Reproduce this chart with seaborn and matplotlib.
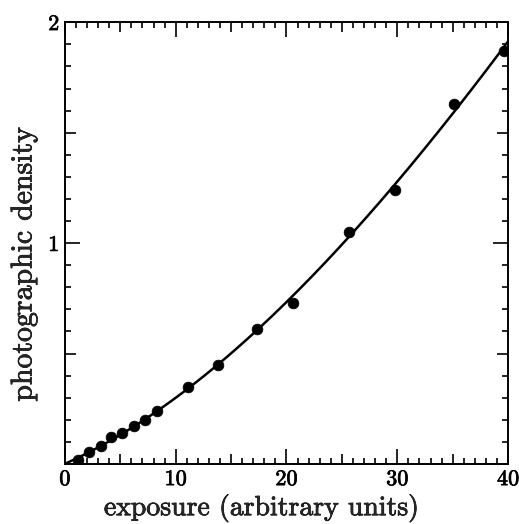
import numpy as np
import pandas as pd
import matplotlib
matplotlib.use("Agg")
import matplotlib.pyplot as plt
import matplotlib.patheffects as pe
import seaborn as sns
from matplotlib.ticker import MultipleLocator, FuncFormatter

exposure = [1.2, 2.2, 3.3, 4.2, 5.2, 6.2, 7.2, 8.3, 11.1, 13.8, 17.3, 20.6, 25.6, 29.8, 35.1, 39.6]
density = [0.02, 0.054, 0.08, 0.12, 0.14, 0.17, 0.20, 0.24, 0.35, 0.45, 0.61, 0.73, 1.05, 1.24, 1.63, 1.87]
x_tick_labels = ["0", "10", "20", "30", "40"]
y_tick_labels = ["1", "2"]

sns.set_style("ticks")
plt.rcParams["font.family"] = ["cmr10", "DejaVu Serif"]
plt.rcParams["axes.formatter.use_mathtext"] = True

fig = plt.figure(figsize=(5.19, 5.24), dpi=100)
ax = fig.add_axes([0.125, 0.1145, 0.854, 0.843])

df = pd.DataFrame({"exposure": exposure, "density": density})
# smooth fitted curve through origin and the data
fx = np.array([0.0] + exposure)
fy = np.array([0.0] + density)
coef = np.polyfit(fx, fy, 3)
cx = np.linspace(0, 40, 200)
curve = pd.DataFrame({"exposure": cx, "density": np.polyval(coef, cx)})

sns.lineplot(data=curve, x="exposure", y="density", ax=ax, color="black", lw=1.8)
sns.scatterplot(data=df, x="exposure", y="density", ax=ax, color="black", s=60,
                edgecolor="black", linewidth=0.5, zorder=5)

ax.set_xlim(0, 40)
ax.set_ylim(0, 2)
ax.xaxis.set_major_locator(MultipleLocator(5))
ax.xaxis.set_minor_locator(MultipleLocator(1))
ax.yaxis.set_major_locator(MultipleLocator(0.5))
ax.yaxis.set_minor_locator(MultipleLocator(0.1))

def xfmt(v, p):
    i = int(round(v))
    if i % 10 == 0:
        return x_tick_labels[i // 10]
    return ""

def yfmt(v, p):
    if abs(v - 1) < 1e-6:
        return y_tick_labels[0]
    if abs(v - 2) < 1e-6:
        return y_tick_labels[1]
    return ""

ax.xaxis.set_major_formatter(FuncFormatter(xfmt))
ax.yaxis.set_major_formatter(FuncFormatter(yfmt))

ax.tick_params(which="both", direction="in", top=True, right=True, width=1.2, colors="black")
ax.tick_params(which="major", length=11, labelsize=16, pad=4)
ax.tick_params(which="minor", length=4.5)

fig.canvas.draw()
for t in ax.xaxis.get_major_ticks():
    v = t.get_loc()
    if int(round(v)) % 10 != 0:
        t.tick1line.set_markersize(7)
        t.tick2line.set_markersize(7)
for t in ax.yaxis.get_major_ticks():
    v = t.get_loc()
    if abs(v - round(v)) > 1e-6:
        t.tick1line.set_markersize(8)
        t.tick2line.set_markersize(8)

for s in ax.spines.values():
    s.set_linewidth(1.4)
    s.set_color("black")

stroke = [pe.withStroke(linewidth=0.5, foreground="black")]
ax.set_xlabel("exposure (arbitrary units)", fontsize=20, path_effects=stroke)
ax.set_ylabel("photographic density", fontsize=21.5, path_effects=stroke)
ax.xaxis.set_label_coords(0.444, -0.066)
ax.yaxis.set_label_coords(-0.062, 0.452)
for lab in ax.get_xticklabels() + ax.get_yticklabels():
    lab.set_path_effects(stroke)

fig.savefig("out.png", dpi=100)
